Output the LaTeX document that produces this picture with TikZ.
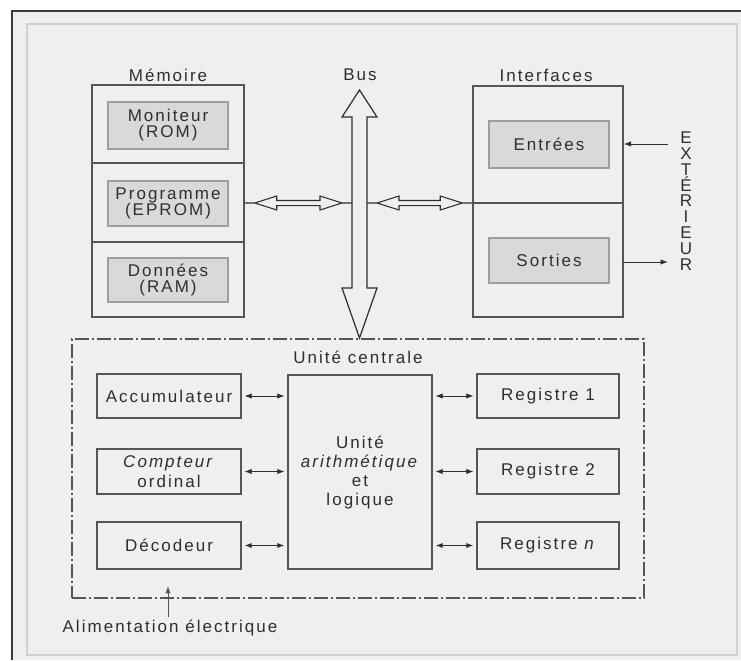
\documentclass[tikz,border=0pt]{standalone}
\usepackage{fontspec}
\setmainfont{Liberation Sans}[LetterSpace=12]
\usetikzlibrary{arrows.meta,calc}

\definecolor{ink}{HTML}{2E2E2E}
\definecolor{paper}{HTML}{EFEFEF}
\definecolor{boxline}{HTML}{555555}
\definecolor{cellfill}{HTML}{D9D9D9}
\definecolor{cellline}{HTML}{9E9E9E}
\definecolor{framedark}{HTML}{3C3C3C}
\definecolor{framelight}{HTML}{D0D0D0}

% hollow two-way bus link between two points on the same level
\newcommand{\hollowlink}[2]{%
  \path let \p1=(#1), \p2=(#2) in
    [draw=ink, line width=0.6pt]
    (\x1,\y1) -- (\x1+7.5pt,\y1)
    (\x2-7.5pt,\y1) -- (\x2,\y1)
    [fill=paper, draw=ink, line width=0.8pt, line join=miter]
    (\x1+7.5pt,\y1) -- (\x1+24pt,\y1+5.25pt) -- (\x1+24pt,\y1+1.9pt)
    -- (\x2-24pt,\y1+1.9pt) -- (\x2-24pt,\y1+5.25pt) -- (\x2-7.5pt,\y1)
    -- (\x2-24pt,\y1-5.25pt) -- (\x2-24pt,\y1-1.9pt)
    -- (\x1+24pt,\y1-1.9pt) -- (\x1+24pt,\y1-5.25pt) -- cycle;}

\tikzset{
  size/.style 2 args={minimum width=#1, minimum height=#2},
  unitbox/.style={draw=boxline, line width=1.1pt, inner sep=0pt, align=center},
  cell/.style={draw=cellline, fill=cellfill, line width=0.8pt, inner sep=0pt, align=center},
  label/.style={inner sep=0pt, align=center},
  link/.style={{Latex[length=5.5pt,width=4pt]}-{Latex[length=5.5pt,width=4pt]},
    draw=ink, line width=0.7pt, shorten <=2pt, shorten >=2pt},
  feed/.style={-{Latex[length=5.5pt,width=4pt]}, draw=ink, line width=0.7pt},
  cpuframe/.style={draw=boxline, line width=1.1pt, inner sep=0pt,
    dash pattern=on 10.5pt off 2.25pt on 1.5pt off 2.25pt},
}

\begin{document}
\begin{tikzpicture}[x=0.75pt, y=-0.75pt, text=ink,
  font=\fontsize{12.75pt}{12pt}\selectfont]
\useasboundingbox (0,0) rectangle (741,660);

% sheet and frame
\fill[white] (0,0) rectangle (741,660);
\fill[paper] (12,11) rectangle (741,660);
\draw[framedark, line width=1.3pt] (12,660) -- (12,11) -- (741,11);
\draw[framelight, line width=1pt] (27,24) rectangle (737,655);

% column titles
\node[label] (tmem) at (168,75) {Mémoire};
\node[label] (tbus) at (360,75) {Bus};
\node[label] (tif)  at (546,75) {Interfaces};

% memory block
\node[unitbox, size={114pt}{174pt}] (mem) at (168,201) {};
\draw[boxline, line width=1.1pt] (mem.west |- 0,163) -- (mem.east |- 0,163);
\draw[boxline, line width=1.1pt] (mem.west |- 0,242) -- (mem.east |- 0,242);
\node[cell, size={90pt}{35.25pt}] (rom) at (168,125.5) {Moniteur\\(ROM)};
\node[cell, size={90pt}{33.75pt}] (eprom) at (168,203.5) {Programme\\(EPROM)};
\node[cell, size={90pt}{33pt}] (ram) at (168,280) {Données\\(RAM)};

% interfaces block
\node[unitbox, size={112.5pt}{173.25pt}] (iface) at (548,201.5) {};
\draw[boxline, line width=1.1pt] (iface.west |- 0,203) -- (iface.east |- 0,203);
\node[cell, size={90pt}{35.25pt}] (inp) at (549,144.5) {Entrées};
\node[cell, size={90pt}{33.75pt}] (outp) at (549,260.5) {Sorties};

% outside world
\node[label, font=\fontsize{12.75pt}{11.85pt}\selectfont] (ext) at (686,201)
  {E\\X\\T\\É\\R\\I\\E\\U\\R};
\coordinate (extin) at (668,144);
\coordinate (extout) at (668,262);
\draw[feed] (extin) -- (iface.east |- extin);
\draw[feed] (iface.east |- extout) -- (extout);

% bus
\draw[fill=paper, draw=ink, line width=0.9pt, line join=miter]
  (359.5,90) -- (377,117) -- (367,117) -- (367,288) -- (377,288)
  -- (359.5,338) -- (342,288) -- (352,288) -- (352,117) -- (342,117) -- cycle;
\coordinate (busw) at (352,203);
\coordinate (buse) at (367,203);
\hollowlink{mem.east |- busw}{busw}
\hollowlink{buse}{iface.west |- buse}

% central unit
\node[cpuframe, size={429pt}{194.25pt}] (cpu) at (358,468.5) {};
\node[label] (tcpu) at (358,357) {Unité centrale};

\node[unitbox, size={108pt}{33pt}] (acc) at (169,396) {Accumulateur};
\node[unitbox, size={108pt}{33.75pt}, font=\fontsize{12.75pt}{14.5pt}\selectfont]
  (pc) at (169,471.5) {\textit{Compteur}\\ordinal};
\node[unitbox, size={108pt}{35.25pt}] (dec) at (169,545.5) {Décodeur};

\node[unitbox, size={108pt}{145.5pt}, font=\fontsize{12.75pt}{14.25pt}\selectfont]
  (alu) at (360,472) {Unité\\\textit{arithmétique}\\et\\logique};

\node[unitbox, size={106.5pt}{33pt}] (r1) at (548,396) {Registre 1};
\node[unitbox, size={106.5pt}{33.75pt}] (r2) at (548,471.5) {Registre 2};
\node[unitbox, size={106.5pt}{35.25pt}] (rn) at (548,545.5) {Registre \textit{n}};

\draw[link] (acc.east) -- (acc.east -| alu.west);
\draw[link] (pc.east) -- (pc.east -| alu.west);
\draw[link, line width=1pt] (dec.east) -- (dec.east -| alu.west);
\draw[link] (r1.west -| alu.east) -- (r1.west);
\draw[link] (r2.west -| alu.east) -- (r2.west);
\draw[link, line width=1pt] (rn.west -| alu.east) -- (rn.west);

% power supply
\node[label] (alim) at (170,628) {Alimentation électrique};
\coordinate (alimtip) at (168,586);
\draw[feed, draw=boxline] (alim.north -| alimtip) ++(0,-3) -- (alimtip);
\end{tikzpicture}
\end{document}
